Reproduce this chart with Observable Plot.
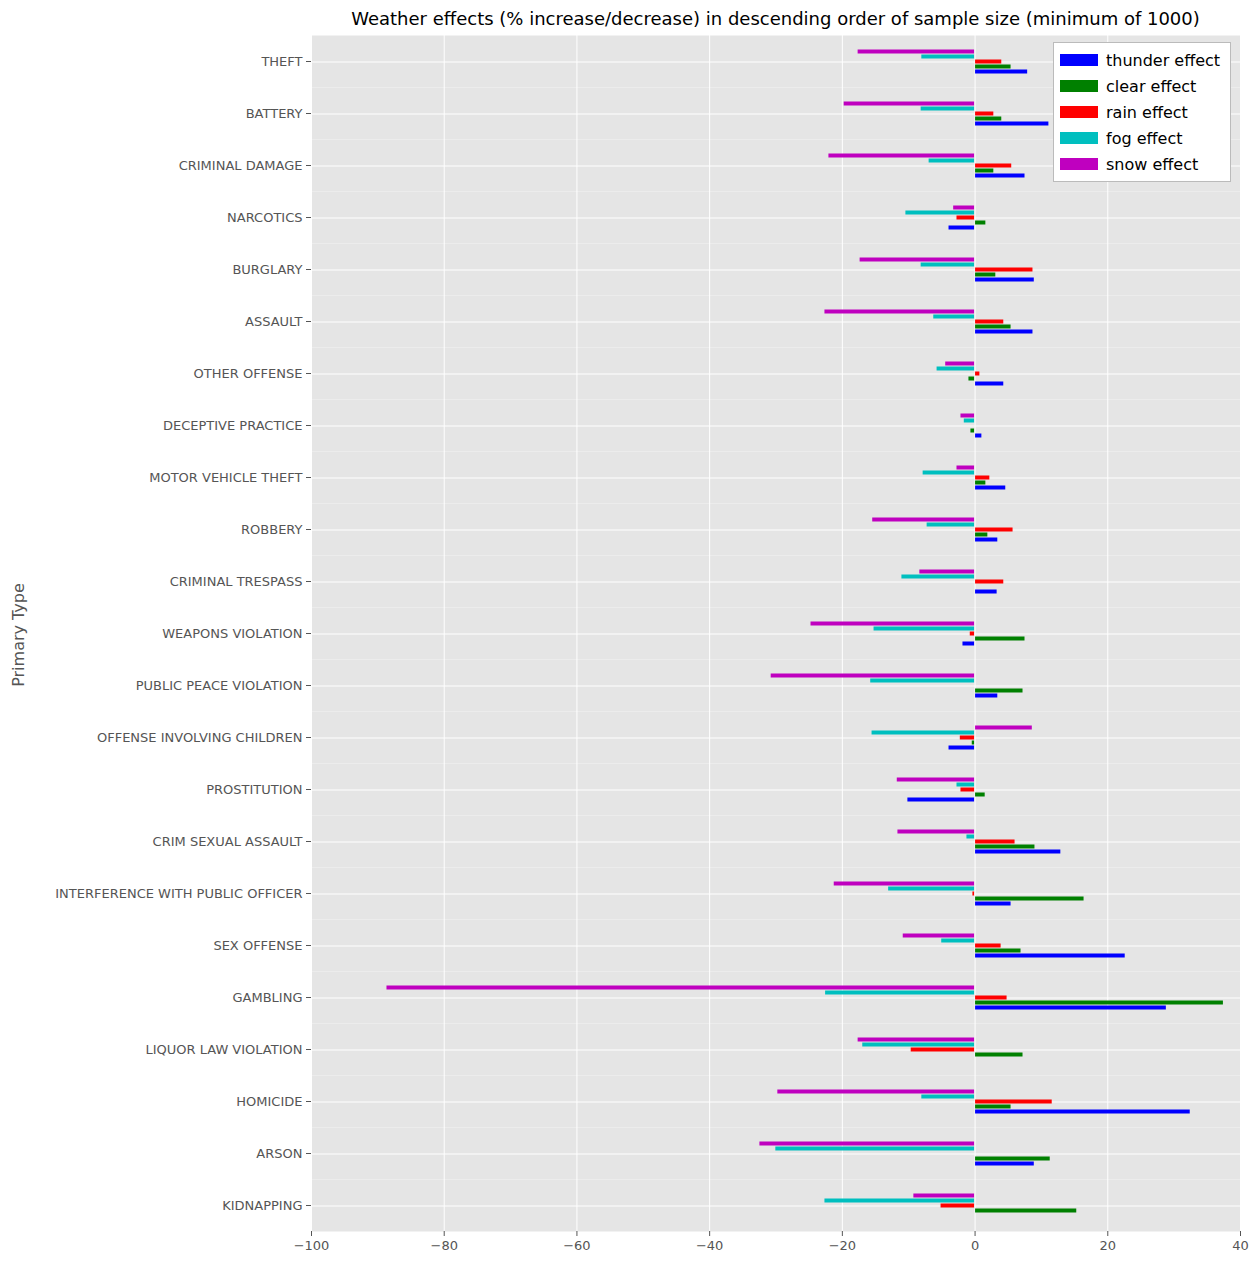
<!DOCTYPE html>
<html>
<head>
<meta charset="utf-8">
<script src="https://cdn.jsdelivr.net/npm/d3@7"></script>
<script src="https://cdn.jsdelivr.net/npm/@observablehq/plot@0.6"></script>
<style>
  body { margin: 0; background: white; font-family: "DejaVu Sans", sans-serif; }
  #wrap { position: relative; width: 1259px; }
  #legend { position: absolute; left: 1053px; top: 42px; width: 176px; padding: 4px 0; background: white;
    border: 1px solid #bbb; font-size: 16px; }
  #legend div { display: flex; align-items: center; height: 26px; padding-left: 6px; }
  #legend span.sw { display: inline-block; width: 38px; height: 12px; margin-right: 8px; }
</style>
</head>
<body>
<div id="wrap">
  <div id="chart"></div>
  <div id="legend"></div>
</div>
<script>
const categories = ["THEFT", "BATTERY", "CRIMINAL DAMAGE", "NARCOTICS", "BURGLARY", "ASSAULT", "OTHER OFFENSE",
  "DECEPTIVE PRACTICE", "MOTOR VEHICLE THEFT", "ROBBERY", "CRIMINAL TRESPASS", "WEAPONS VIOLATION",
  "PUBLIC PEACE VIOLATION", "OFFENSE INVOLVING CHILDREN", "PROSTITUTION", "CRIM SEXUAL ASSAULT",
  "INTERFERENCE WITH PUBLIC OFFICER", "SEX OFFENSE", "GAMBLING", "LIQUOR LAW VIOLATION", "HOMICIDE", "ARSON", "KIDNAPPING"]

const thunder = [8.0, 11.2, 7.6, -4.0, 9.0, 8.8, 4.4, 1.1, 4.7, 3.5, 3.4, -1.9, 3.5, -4.0, -10.2, 13.0, 5.5, 22.7, 28.9, 0.0, 32.5, 9.0, 0.0]
const clear = [5.5, 4.1, 2.9, 1.7, 3.2, 5.5, -1.0, -0.7, 1.7, 2.0, 0.0, 7.6, 7.3, -0.5, 1.6, 9.1, 16.5, 7.0, 37.5, 7.3, 5.5, 11.4, 15.4]
const rain = [4.1, 2.9, 5.6, -2.8, 8.8, 4.4, 0.8, -0.1, 2.3, 5.8, 4.4, -0.8, 0.1, -2.3, -2.2, 6.1, -0.4, 4.0, 4.9, -9.7, 11.7, 0.0, -5.2]
const fog = [-8.1, -8.2, -7.0, -10.5, -8.2, -6.3, -5.8, -1.7, -7.9, -7.3, -11.1, -15.3, -15.8, -15.6, -2.8, -1.3, -13.1, -5.1, -22.6, -17.0, -8.1, -30.1, -22.7]
const snow = [-17.7, -19.8, -22.1, -3.3, -17.4, -22.7, -4.5, -2.2, -2.8, -15.5, -8.4, -24.8, -30.8, 8.7, -11.8, -11.7, -21.3, -10.9, -88.7, -17.7, -29.8, -32.5, -9.3]

const seriesNames = ["thunder effect", "clear effect", "rain effect", "fog effect", "snow effect"]
const seriesColors = ["#0000ff", "#008000", "#ff0000", "#00bfbf", "#bf00bf"]
const seriesValues = [thunder, clear, rain, fog, snow]
const xTicks = d3.range(-100, 41, 20)

const rows = []
seriesNames.forEach((s, i) => {
  categories.forEach((c, j) => rows.push({ cat: c, series: s, value: seriesValues[i][j] }))
})

const chart = Plot.plot({
  width: 1259,
  height: 1267,
  marginLeft: 311,
  marginRight: 19,
  marginTop: 33,
  marginBottom: 35,
  style: { fontFamily: "DejaVu Sans, sans-serif", fontSize: "13px", color: "#555" },
  x: { domain: [-100, 40], label: null },
  fy: { domain: categories, padding: 0, label: null },
  y: { domain: [...seriesNames].reverse(), axis: null, insetTop: 12, insetBottom: 12, padding: 0 },
  color: { domain: seriesNames, range: seriesColors },
  marks: [
    Plot.frame({ fill: "#e5e5e5" }),
    Plot.gridX(xTicks, { stroke: "white", strokeOpacity: 1, strokeWidth: 1 }),
    Plot.ruleY(rows.filter(d => d.series === "rain effect"), { fy: "cat", y: "series", stroke: "white", strokeWidth: 1 }),
    Plot.barX(rows, { fy: "cat", y: "series", x: "value", fill: "series", inset: 0.5 }),
    Plot.axisFy({ anchor: "left", label: null, tickSize: 5, fontSize: 13 }),
    Plot.axisX(xTicks, { anchor: "bottom", tickSize: 5, fontSize: 13, label: null })
  ]
})

const svg = d3.select(chart)
svg.append("text")
  .attr("x", 311 + 929 / 2).attr("y", 25)
  .attr("text-anchor", "middle")
  .attr("font-size", 18).attr("fill", "black")
  .text("Weather effects (% increase/decrease) in descending order of sample size (minimum of 1000)")
svg.append("text")
  .attr("transform", "translate(24,635) rotate(-90)")
  .attr("text-anchor", "middle")
  .attr("font-size", 16).attr("fill", "#555")
  .text("Primary Type")

d3.select("#chart").append(() => chart)

const legend = d3.select("#legend")
seriesNames.forEach((s, i) => {
  const row = legend.append("div")
  row.append("span").attr("class", "sw").style("background", seriesColors[i])
  row.append("span").text(s)
})
</script>
</body>
</html>
